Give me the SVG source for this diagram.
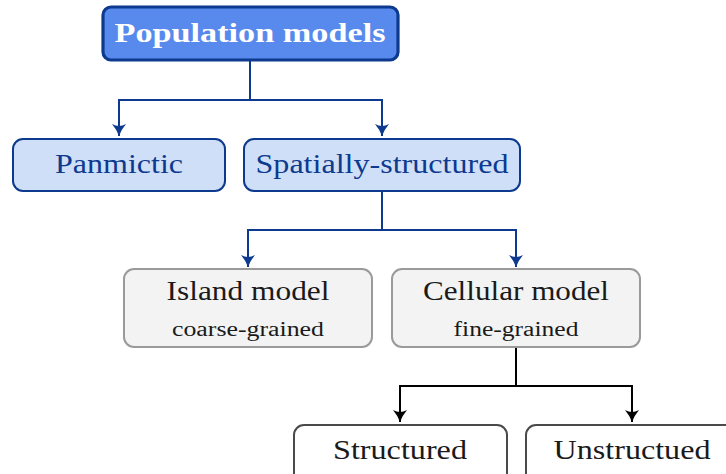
<svg xmlns="http://www.w3.org/2000/svg" width="726" height="474" viewBox="0 0 726 474">
  <defs>
    <style>
      text { font-family: "Liberation Serif", "DejaVu Serif", serif; text-anchor: middle; }
      .root rect { fill: #5889ec; stroke: #0d3a8e; stroke-width: 3.2; }
      .root text { fill: #ffffff; font-weight: bold; font-size: 27px; }
      .lvl2 rect { fill: #cfdff8; stroke: #0d3a8e; stroke-width: 2; }
      .lvl2 text { fill: #0d3a8e; font-size: 27px; }
      .lvl3 rect { fill: #f3f3f3; stroke: #9a9a9a; stroke-width: 2; }
      .lvl3 text { fill: #1a1a1a; font-size: 27px; }
      .lvl3 text.sub { font-size: 20px; }
      .lvl4 rect { fill: #ffffff; stroke: #4a4a4a; stroke-width: 2; }
      .lvl4 text { fill: #1a1a1a; font-size: 27px; }
      .edge { fill: none; stroke-width: 2; }
      .blue { stroke: #0d3a8e; }
      .black { stroke: #000000; }
    </style>
    <marker id="arrowBlue" viewBox="-14 -8 16 16" refX="0" refY="0" markerWidth="16" markerHeight="16" markerUnits="userSpaceOnUse" orient="auto">
      <path d="M0,0 Q-6,-2 -12,-7 Q-8,0 -12,7 Q-6,2 0,0 Z" fill="#0d3a8e"/>
    </marker>
    <marker id="arrowBlack" viewBox="-14 -8 16 16" refX="0" refY="0" markerWidth="16" markerHeight="16" markerUnits="userSpaceOnUse" orient="auto">
      <path d="M0,0 Q-6,-2 -12,-7 Q-8,0 -12,7 Q-6,2 0,0 Z" fill="#000000"/>
    </marker>
  </defs>

  <!-- connectors -->
  <g id="connectors">
    <path class="edge blue" d="M250,61 V100 H119 V136" marker-end="url(#arrowBlue)"/>
    <path class="edge blue" d="M250,100 H382 V136" marker-end="url(#arrowBlue)"/>
    <path class="edge blue" d="M382,191 V230 H248 V267" marker-end="url(#arrowBlue)"/>
    <path class="edge blue" d="M382,230 H516 V267" marker-end="url(#arrowBlue)"/>
    <path class="edge black" d="M516,347 V386 H400 V422" marker-end="url(#arrowBlack)"/>
    <path class="edge black" d="M516,386 H632 V422" marker-end="url(#arrowBlack)"/>
  </g>

  <g id="population-models" class="root">
    <rect x="103" y="7" width="295" height="53" rx="8"/>
    <text x="250" y="42" textLength="271" lengthAdjust="spacingAndGlyphs">Population models</text>
  </g>

  <g id="panmictic" class="lvl2">
    <rect x="13" y="139" width="212" height="52" rx="10"/>
    <text x="119" y="173" textLength="128" lengthAdjust="spacingAndGlyphs">Panmictic</text>
  </g>

  <g id="spatially-structured" class="lvl2">
    <rect x="244" y="139" width="276" height="52" rx="10"/>
    <text x="382" y="173" textLength="253" lengthAdjust="spacingAndGlyphs">Spatially-structured</text>
  </g>

  <g id="island-model" class="lvl3">
    <rect x="124" y="269" width="248" height="78" rx="10"/>
    <text x="248" y="300" textLength="163" lengthAdjust="spacingAndGlyphs">Island model</text>
    <text class="sub" x="248" y="336" textLength="152" lengthAdjust="spacingAndGlyphs">coarse-grained</text>
  </g>

  <g id="cellular-model" class="lvl3">
    <rect x="392" y="269" width="248" height="78" rx="10"/>
    <text x="516" y="300" textLength="186" lengthAdjust="spacingAndGlyphs">Cellular model</text>
    <text class="sub" x="516" y="336" textLength="125" lengthAdjust="spacingAndGlyphs">fine-grained</text>
  </g>

  <g id="structured" class="lvl4">
    <rect x="294" y="425" width="213" height="60" rx="10"/>
    <text x="400" y="459" textLength="134" lengthAdjust="spacingAndGlyphs">Structured</text>
  </g>

  <g id="unstructued" class="lvl4">
    <rect x="526" y="425" width="213" height="60" rx="10"/>
    <text x="632" y="459" textLength="157" lengthAdjust="spacingAndGlyphs">Unstructued</text>
  </g>
</svg>
